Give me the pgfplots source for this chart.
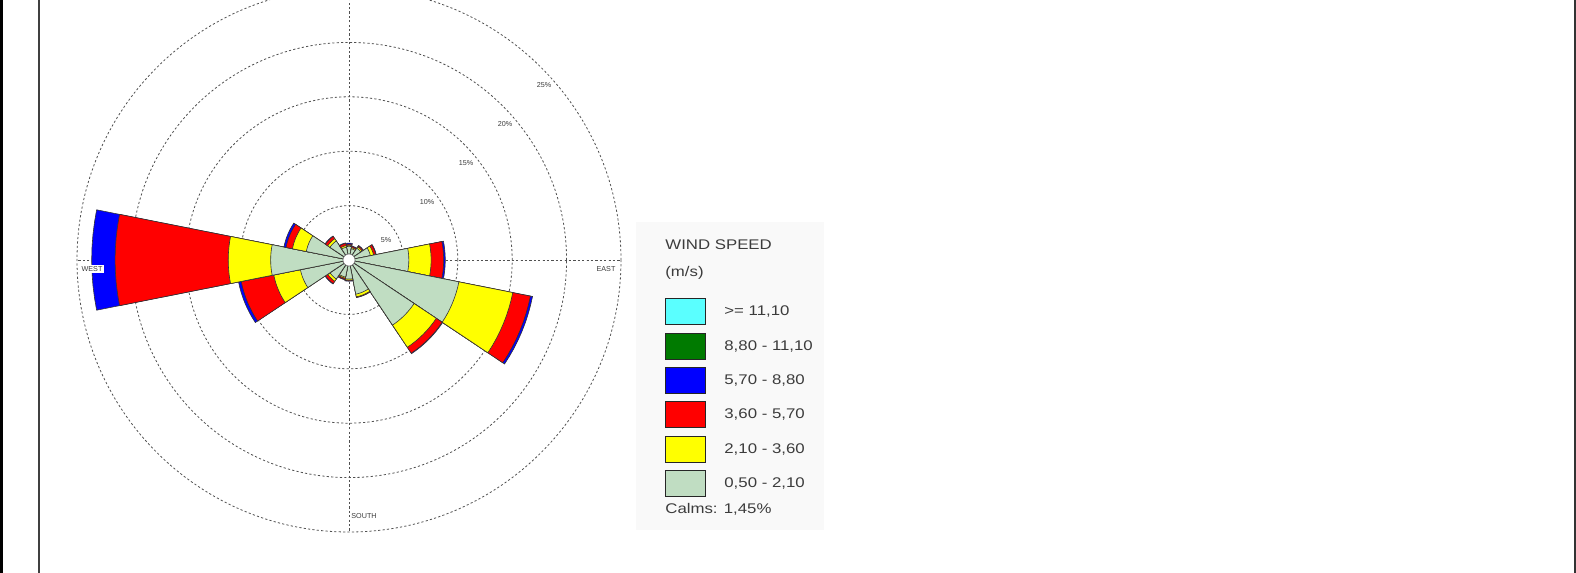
\documentclass[border=0pt]{standalone}
\usepackage{pgfplots}
\pgfplotsset{compat=1.18}
\usepackage{pgfplotstable}
\usepgfplotslibrary{polar}
\usepackage{fontspec}
\setmainfont{Liberation Sans}
\newfontfamily\legfont[FakeStretch=1.2]{Liberation Sans}

\definecolor{cGreen}{RGB}{192,221,194}
\definecolor{cYellow}{RGB}{255,255,0}
\definecolor{cRed}{RGB}{255,0,0}
\definecolor{cBlue}{RGB}{0,0,255}
\definecolor{cDkGreen}{RGB}{0,122,0}
\definecolor{cCyan}{RGB}{90,255,255}
\definecolor{gridgray}{RGB}{80,80,80}
\definecolor{txtgray}{RGB}{60,60,60}

% direction (math angle, deg), cumulative frequency (%) up to the top of each class
\pgfplotstableread{
ang   g     y     r     b
90    1.25  1.35  1.45  1.55
67.5  1.05  1.15  1.25  1.30
45    1.30  1.45  1.55  1.60
22.5  2.00  2.30  2.50  2.55
0     5.50  7.55  8.70  8.85
-22.5 10.30 15.35 17.00 17.20
-45   7.20  9.65  10.30 10.35
-67.5 3.20  3.45  3.50  3.52
-90   1.75  1.85  1.90  1.95
-112.5 1.60 1.70  1.80  1.85
-135  2.10  2.35  2.60  2.65
-157.5 4.55 7.05  10.10 10.35
180   7.20  11.10 21.50 23.65
157.5 4.00  5.30  5.90  6.10
135   2.10  2.35  2.60  2.65
112.5 1.20  1.35  1.55  1.60
}\rose

\newcommand\slice[3]{%
  \pgfmathsetmacro\aA{#1-11.25}\pgfmathsetmacro\aB{#1-8.4375}%
  \pgfmathsetmacro\aC{#1-5.625}\pgfmathsetmacro\aD{#1-2.8125}%
  \pgfmathsetmacro\aE{#1}\pgfmathsetmacro\aF{#1+2.8125}%
  \pgfmathsetmacro\aG{#1+5.625}\pgfmathsetmacro\aH{#1+8.4375}%
  \pgfmathsetmacro\aI{#1+11.25}%
  \edef\tmp{\noexpand\addplot[draw=black!80, line width=0.3pt, fill=#3, forget plot]
    coordinates {(0,0) (\aA,#2) (\aB,#2) (\aC,#2) (\aD,#2) (\aE,#2) (\aF,#2) (\aG,#2) (\aH,#2) (\aI,#2) (0,0)};}%
  \tmp}

\newcommand\PX[2]{({(#1)*0.5pt},{(573-(#2))*0.5pt})}

\begin{document}
\begin{tikzpicture}
\useasboundingbox (0,0) rectangle (788pt,286.5pt);
\clip (0,0) rectangle (788pt,286.5pt);

\begin{polaraxis}[
  at={(174.5pt,156.5pt)}, anchor=center,
  width=272pt, height=272pt, scale only axis,
  ymin=0, ymax=25,
  xtick={0,90,180,270}, ytick={5,10,15,20},
  xticklabels={}, yticklabels={},
  major tick length=0pt,
  grid=major,
  major grid style={gridgray, line width=0.4pt, dash pattern=on 1.1pt off 1.1pt},
  axis line style={gridgray, line width=0.4pt, dash pattern=on 1.1pt off 1.1pt},
]
\pgfplotstablegetrowsof{\rose}
\pgfmathtruncatemacro\nrows{\pgfplotsretval-1}
\pgfplotsforeachungrouped \i in {0,...,\nrows}{%
  \pgfplotstablegetelem{\i}{ang}\of\rose \let\A\pgfplotsretval
  \pgfplotstablegetelem{\i}{b}\of\rose \let\RB\pgfplotsretval
  \pgfplotstablegetelem{\i}{r}\of\rose \let\RR\pgfplotsretval
  \pgfplotstablegetelem{\i}{y}\of\rose \let\RY\pgfplotsretval
  \pgfplotstablegetelem{\i}{g}\of\rose \let\RG\pgfplotsretval
  \slice{\A}{\RB}{cBlue}%
  \slice{\A}{\RR}{cRed}%
  \slice{\A}{\RY}{cYellow}%
  \slice{\A}{\RG}{cGreen}%
}
\draw[black!55, fill=white, line width=0.3pt] (axis cs:0,0) circle[radius=3pt];
\end{polaraxis}

% rose labels
\begin{scope}[every node/.style={text=txtgray, font=\fontsize{3.6}{4}\selectfont, inner sep=0.6pt}]
\node[fill=white] at \PX{92}{269} {WEST};
\node at \PX{606}{269} {EAST};
\node at \PX{364}{516} {SOUTH};
\node at \PX{386}{240} {5\%};
\node at \PX{427}{202} {10\%};
\node at \PX{466}{163.4} {15\%};
\node at \PX{505}{124.3} {20\%};
\node at \PX{544}{84.8} {25\%};
\end{scope}

% legend
\fill[black!2.5] \PX{636}{222} rectangle \PX{824}{530};
\begin{scope}[every node/.style={text=txtgray, font=\legfont\fontsize{7}{8}\selectfont, inner sep=0pt, anchor=west}]
\node at \PX{665}{245} {WIND SPEED};
\node at \PX{665}{273} {(m/s)};
\foreach \k/\c/\t in {0/cCyan/{>= 11,10}, 1/cDkGreen/{8,80 - 11,10}, 2/cBlue/{5,70 - 8,80},
                      3/cRed/{3,60 - 5,70}, 4/cYellow/{2,10 - 3,60}, 5/cGreen/{0,50 - 2,10}}{
  \pgfmathsetmacro\ty{299+34.3*\k}
  \draw[black!85, line width=0.5pt, fill=\c] \PX{665}{\ty} rectangle \PX{705}{\ty+26};
  \node at \PX{724}{\ty+13} {\t};
}
\node at \PX{665}{509} {Calms: 1,45\%};
\end{scope}

% frame lines
\fill[black] \PX{0}{0} rectangle \PX{2.7}{573};
\fill[black!75] \PX{38}{0} rectangle \PX{40}{573};
\fill[black!80] \PX{1574}{0} rectangle \PX{1576}{573};
\end{tikzpicture}
\end{document}
